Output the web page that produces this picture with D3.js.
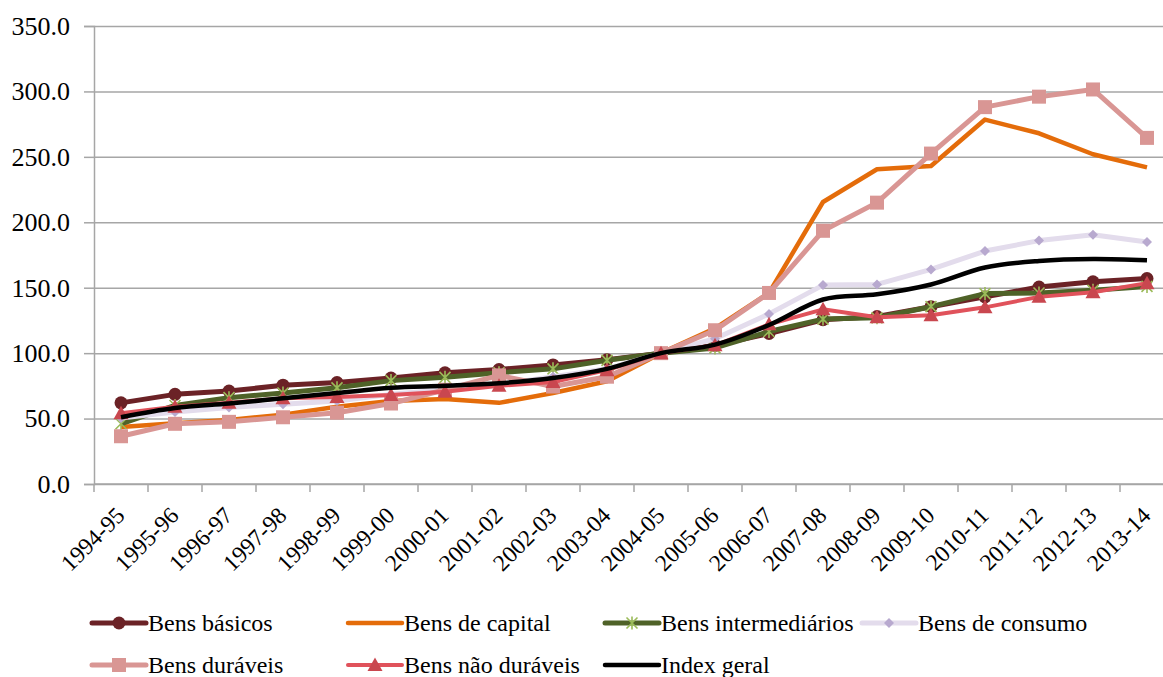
<!DOCTYPE html>
<html>
<head>
<meta charset="utf-8">
<script src="https://cdn.jsdelivr.net/npm/d3@7"></script>
<style>
  html, body { margin: 0; padding: 0; background: #fff; }
  svg text { font-family: "Liberation Serif", "Times New Roman", Tinos, "DejaVu Serif", serif !important; }
</style>
</head>
<body>
<div id="chart"></div>
<script>
const years = ["1994-95","1995-96","1996-97","1997-98","1998-99","1999-00","2000-01","2001-02","2002-03","2003-04",
  "2004-05","2005-06","2006-07","2007-08","2008-09","2009-10","2010-11","2011-12","2012-13","2013-14"];
const yTicks = [0, 50, 100, 150, 200, 250, 300, 350];

const basicos = [62, 68.5, 71, 75.5, 77.5, 81, 85, 87.5, 91, 95, 100, 106, 115, 125.5, 128, 135.5, 143, 150.5, 154.5, 157];
const capital = [43.5, 46.5, 49, 53, 59, 63.5, 65, 62, 69.5, 78.5, 100, 119, 146, 215.5, 240.5, 243, 278.5, 268, 252, 242];
const intermediarios = [46, 60, 66, 69.5, 73.5, 79, 81.5, 85, 88, 94.5, 100, 104, 116.5, 126, 127, 135.5, 145.5, 146, 148, 151];
const consumo = [50.5, 55, 58.5, 61, 63.5, 68.5, 72, 76, 82, 88, 100, 111, 130, 152, 152.5, 164, 178, 186, 190.5, 185];
const duraveis = [36.5, 46, 47.5, 51, 54.5, 61.5, 72, 83, 74.5, 82, 100, 117.5, 146, 193.5, 215, 252.5, 288, 296, 301.5, 264.5];
const naoDuraveis = [54, 59, 62, 65.5, 66.5, 68, 70.5, 75, 78, 87, 100, 106, 122, 133.5, 127.5, 129, 135, 143, 146.5, 153.5];
const indexGeral = [51, 58, 61.5, 65.5, 69.5, 73.5, 75, 77, 81, 88, 100, 106.5, 121.5, 141, 145, 152.5, 165.5, 170.5, 172, 171];

// series in Excel drawing order
const series = [
  { name: "Bens básicos", values: basicos, color: "#6b2226", width: 5, marker: "circle", mfill: "#6b2226" },
  { name: "Bens de capital", values: capital, color: "#e46c0a", width: 4.5, marker: null },
  { name: "Bens intermediários", values: intermediarios, color: "#4f6228", width: 5, marker: "star", mfill: "#9bbb59" },
  { name: "Bens de consumo", values: consumo, color: "#e3dcec", width: 5, marker: "diamond", mfill: "#b8a9cf" },
  { name: "Bens duráveis", values: duraveis, color: "#d99694", width: 5, marker: "square", mfill: "#d99694" },
  { name: "Bens não duráveis", values: naoDuraveis, color: "#e0525b", width: 4, marker: "triangle", mfill: "#c9474f" },
  { name: "Index geral", values: indexGeral, color: "#000000", width: 4.5, marker: null, smooth: true }
];

const W = 1163, H = 677;
const margin = { left: 94, top: 26, bottom: 193 };
const plotRight = 1174;

const svg = d3.select("#chart").append("svg").attr("width", W).attr("height", H);

const x = d3.scaleBand().domain(years).range([margin.left, plotRight]);
const y = d3.scaleLinear().domain([0, 350]).range([H - margin.bottom, margin.top]);
const cx = d => x(d) + x.bandwidth() / 2;

// gridlines
svg.append("g")
  .attr("transform", `translate(${margin.left},0)`)
  .call(d3.axisLeft(y).tickValues(yTicks).tickSize(-(plotRight - margin.left)).tickFormat(""))
  .call(g => g.select(".domain").remove())
  .selectAll("line").attr("stroke", "#a6a6a6").attr("stroke-width", 1.5);

// y axis
const yAxis = svg.append("g")
  .attr("transform", `translate(${margin.left},0)`)
  .call(d3.axisLeft(y).tickValues(yTicks).tickSize(10).tickPadding(14).tickFormat(d3.format(".1f")));
yAxis.select(".domain").attr("stroke", "#a6a6a6").attr("stroke-width", 1.5);
yAxis.selectAll(".tick line").attr("stroke", "#a6a6a6").attr("stroke-width", 1.5);
yAxis.selectAll("text").attr("font-size", 26).attr("fill", "#000");

// x axis: ticks at band boundaries
const xAxisG = svg.append("g").attr("transform", `translate(0,${y(0)})`);
xAxisG.append("line").attr("x1", margin.left).attr("x2", plotRight)
  .attr("stroke", "#a6a6a6").attr("stroke-width", 1.5);
xAxisG.selectAll(".xt").data(years).enter().append("line")
  .attr("x1", d => x(d)).attr("x2", d => x(d)).attr("y1", 0).attr("y2", 8)
  .attr("stroke", "#a6a6a6").attr("stroke-width", 1.5);
xAxisG.selectAll(".xl").data(years).enter().append("text")
  .attr("transform", d => `translate(${cx(d) + 5},${33}) rotate(-45)`)
  .attr("text-anchor", "end")
  .attr("font-size", 23.5)
  .attr("fill", "#000")
  .text(d => d);

// lines
const plot = svg.append("g");
series.forEach(s => {
  const line = d3.line()
    .x((v, i) => cx(years[i]))
    .y(v => y(v));
  if (s.smooth) line.curve(d3.curveCatmullRom.alpha(0));
  plot.append("path")
    .datum(s.values)
    .attr("fill", "none")
    .attr("stroke", s.color)
    .attr("stroke-width", s.width)
    .attr("stroke-linejoin", "round")
    .attr("d", line);
  if (s.marker) {
    plot.selectAll(null).data(s.values).enter()
      .append("g")
      .attr("transform", (v, i) => `translate(${cx(years[i])},${y(v)})`)
      .each(function () { drawMarker(d3.select(this), s); });
  }
});

function drawMarker(g, s) {
  if (s.marker === "circle") {
    g.append("circle").attr("r", 6.5).attr("fill", s.mfill);
  } else if (s.marker === "square") {
    g.append("rect").attr("x", -7).attr("y", -7).attr("width", 14).attr("height", 14).attr("fill", s.mfill);
  } else if (s.marker === "triangle") {
    g.append("path").attr("d", "M0,-7.5L7.5,6L-7.5,6Z").attr("fill", s.mfill);
  } else if (s.marker === "diamond") {
    g.append("path").attr("d", "M0,-5L5,0L0,5L-5,0Z").attr("fill", s.mfill);
  } else if (s.marker === "star") {
    g.append("path").attr("d", "M-5.5,-5.5L5.5,5.5M-5.5,5.5L5.5,-5.5M0,-6.5L0,6.5")
      .attr("stroke", s.mfill).attr("stroke-width", 1.6).attr("fill", "none");
  }
}

// legend
const legendCols = [92, 348, 605, 862];
const legendRows = [623, 665];
const legend = svg.append("g");
series.forEach((s, i) => {
  const lx = legendCols[i % 4], ly = legendRows[Math.floor(i / 4)];
  const g = legend.append("g").attr("transform", `translate(${lx},${ly})`);
  g.append("line").attr("x1", 0).attr("x2", 54).attr("y1", 0).attr("y2", 0)
    .attr("stroke", s.color).attr("stroke-width", s.width).attr("stroke-linecap", "round");
  if (s.marker) drawMarker(g.append("g").attr("transform", "translate(27,0)"), s);
  g.append("text").attr("x", 56).attr("y", 8).attr("font-size", 24).attr("fill", "#000").text(s.name);
});
</script>
</body>
</html>
